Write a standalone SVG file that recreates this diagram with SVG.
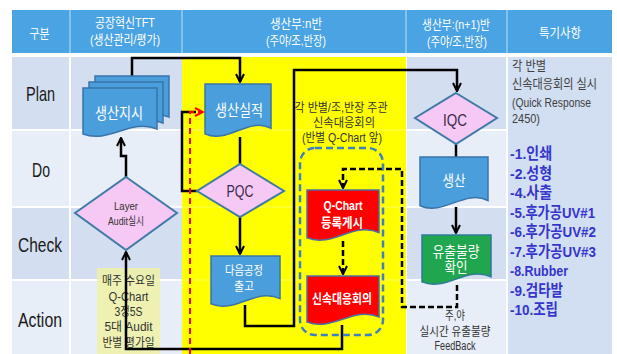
<svg xmlns="http://www.w3.org/2000/svg" width="617" height="354" viewBox="0 0 617 354">
<style>
text{font-family:'Liberation Sans','Noto Sans CJK KR',sans-serif}
.hdr{fill:#fff;font-size:13px;text-anchor:middle}
.row{fill:#1a1a1a;font-size:21px;text-anchor:middle}
.wt{fill:#fff;text-anchor:middle}
.dk{fill:#333;text-anchor:middle}
.bdoc{fill:#4A9EDC;stroke:#3A74AA;stroke-width:1.5}
.rdoc{fill:#FF0000;stroke:#4F6FA0;stroke-width:1.5}
.gdoc{fill:#1FA64E;stroke:#2E7C98;stroke-width:1.5}
.dia{fill:#F6C8F4;stroke:#3E7BA6;stroke-width:2}
.ln{fill:none;stroke:#000;stroke-width:2.5}
.dsh{stroke-dasharray:6 3}
.red{fill:none;stroke:#FF0000;stroke-width:2;stroke-dasharray:6 4}
.lst{fill:#3535CC;font-size:15.5px;font-weight:bold}
.note{fill:#404040;font-size:13px}
.sep{stroke:#fff;stroke-width:2}
</style>
<defs>
<marker id="ah" viewBox="0 0 10 10" refX="9" refY="5" markerWidth="4" markerHeight="4" orient="auto"><path d="M1,1 L9,5 L1,9" fill="none" stroke="#000" stroke-width="2"/></marker>
<marker id="ahr" viewBox="0 0 10 10" refX="9" refY="5" markerWidth="5" markerHeight="5" orient="auto"><path d="M1,1 L9,5 L1,9" fill="none" stroke="#FF0000" stroke-width="2"/></marker>
</defs>

<g id="background">
<rect x="0" y="0" width="617" height="354" fill="#fff"/>
<rect x="12" y="10" width="600" height="43" fill="#4AA3E3"/>
<g stroke="#9ACBF0" stroke-width="1.5"><line x1="70" y1="10" x2="70" y2="53"/><line x1="182" y1="10" x2="182" y2="53"/><line x1="406" y1="10" x2="406" y2="53"/><line x1="507" y1="10" x2="507" y2="53"/></g>
<rect x="12" y="57" width="600" height="297" fill="#D3DEF0"/>
<rect x="12" y="130" width="170" height="77" fill="#E8EEF7"/>
<rect x="12" y="280" width="170" height="74" fill="#E8EEF7"/>
<rect x="406" y="130" width="101" height="77" fill="#E8EEF7"/>
<rect x="406" y="280" width="101" height="74" fill="#E8EEF7"/>
<rect x="507" y="57" width="105" height="297" fill="#D2DEF2"/>
<g class="sep"><line x1="70" y1="57" x2="70" y2="354"/><line x1="406" y1="57" x2="406" y2="354"/><line x1="507" y1="57" x2="507" y2="354"/><line x1="12" y1="130" x2="507" y2="130"/><line x1="12" y1="207" x2="507" y2="207"/><line x1="12" y1="280" x2="507" y2="280"/></g>
<rect x="182" y="57" width="224" height="297" fill="#FFFF00"/>
<g stroke="#fff" stroke-opacity="0.35" stroke-width="1"><line x1="182" y1="130" x2="406" y2="130"/><line x1="182" y1="207" x2="406" y2="207"/><line x1="182" y1="280" x2="406" y2="280"/></g>
</g>

<g id="header">
<text class="hdr" x="39.5" y="38" textLength="20" lengthAdjust="spacingAndGlyphs">구분</text>
<text class="hdr" x="125" y="27" textLength="60" lengthAdjust="spacingAndGlyphs">공장혁신TFT</text>
<text class="hdr" x="125" y="44" textLength="70" lengthAdjust="spacingAndGlyphs">(생산관리/평가)</text>
<text class="hdr" x="296" y="28" textLength="52" lengthAdjust="spacingAndGlyphs">생산부:n반</text>
<text class="hdr" x="296" y="45" textLength="60" lengthAdjust="spacingAndGlyphs">(주야/조,반장)</text>
<text class="hdr" x="456" y="29" textLength="68" lengthAdjust="spacingAndGlyphs">생산부:(n+1)반</text>
<text class="hdr" x="457" y="46" textLength="60" lengthAdjust="spacingAndGlyphs">(주야/조,반장)</text>
<text class="hdr" x="560" y="37" textLength="42" lengthAdjust="spacingAndGlyphs">특기사항</text>
</g>

<g id="row-labels">
<text class="row" x="40.5" y="101" textLength="29" lengthAdjust="spacingAndGlyphs">Plan</text>
<text class="row" x="41" y="177" textLength="18" lengthAdjust="spacingAndGlyphs">Do</text>
<text class="row" x="40" y="252" textLength="44" lengthAdjust="spacingAndGlyphs">Check</text>
<text class="row" x="40" y="327" textLength="44" lengthAdjust="spacingAndGlyphs">Action</text>
</g>

<g id="note-weekly">
<rect x="97" y="268" width="63" height="86" fill="#EEF1A6" fill-opacity="0.85"/>
<text class="dk" font-size="12.5" x="128.5" y="285" textLength="53" lengthAdjust="spacingAndGlyphs">매주 수요일</text>
<text class="dk" font-size="12.5" x="128.5" y="301" textLength="40" lengthAdjust="spacingAndGlyphs">Q-Chart</text>
<text class="dk" font-size="12.5" x="128.5" y="316" textLength="28" lengthAdjust="spacingAndGlyphs">3정5S</text>
<text class="dk" font-size="12.5" x="128.5" y="331" textLength="48" lengthAdjust="spacingAndGlyphs">5대 Audit</text>
<text class="dk" font-size="12.5" x="128.5" y="347" textLength="52" lengthAdjust="spacingAndGlyphs">반별 평가일</text>
</g>

<g id="connectors">
<path class="ln" d="M132,76 V58 H240 V82" marker-end="url(#ah)"/>
<path class="ln" d="M126,177 V156 H121 V138" marker-end="url(#ah)"/>
<path class="ln" d="M342,325 V349 H126 V252" marker-end="url(#ah)"/>
<path class="ln" d="M197,191 H182 V112 H196"/>
<path class="red" d="M190,354 V112 H203" marker-end="url(#ahr)"/>
<path class="ln" d="M240,137 V164"/>
<path class="ln" d="M240,217 V254" marker-end="url(#ah)"/>
<path class="ln" d="M245,305 V326 H294 V70 H457 V91" marker-end="url(#ah)"/>
<path class="ln" d="M456,144 V158"/>
<path class="ln" d="M456,207 V233" marker-end="url(#ah)"/>
<path class="ln dsh" d="M457,285 V307 H402 V169 H343 V188" marker-end="url(#ah)"/>
<path class="ln dsh" d="M343,241 V274" marker-end="url(#ah)"/>
</g>

<g id="node-production-order">
<path class="bdoc" d="M95,76 H169 V117 C143.1,106 120.9,132 95,122 Z"/>
<path class="bdoc" d="M89,82 H163 V123 C137.1,112 114.9,138 89,128 Z"/>
<path class="bdoc" d="M83,88 H157 V129 C131.1,118 108.9,144 83,134 Z"/>
<text class="wt" font-size="16" x="119" y="119" textLength="48" lengthAdjust="spacingAndGlyphs">생산지시</text>
</g>

<g id="node-layer-audit">
<polygon class="dia" points="126,177 177,213 126,250 75,213"/>
<text fill="#333" text-anchor="middle" font-size="11" x="126" y="210" textLength="24" lengthAdjust="spacingAndGlyphs">Layer</text>
<text fill="#333" text-anchor="middle" font-size="11" x="126" y="225" textLength="36" lengthAdjust="spacingAndGlyphs">Audit실시</text>
</g>

<g id="node-production-result">
<path class="bdoc" d="M205,84 H271 V128.3 C247.9,116.4 228.1,144.5 205,133.7 Z"/>
<text class="wt" font-size="16" x="239" y="116" textLength="48" lengthAdjust="spacingAndGlyphs">생산실적</text>
</g>

<g id="node-pqc">
<polygon class="dia" points="240,164 284,191 240,217 197,191"/>
<text fill="#3A2A4A" text-anchor="middle" font-size="17" x="240" y="197" textLength="27" lengthAdjust="spacingAndGlyphs">PQC</text>
</g>

<g id="node-next-process">
<path class="bdoc" d="M211,256 H280 V298.6 C255.9,287.2 235.2,314.2 211,303.8 Z"/>
<text class="wt" font-size="12.5" x="244" y="275" textLength="38" lengthAdjust="spacingAndGlyphs">다음공정</text>
<text class="wt" font-size="12.5" x="244" y="291" textLength="20" lengthAdjust="spacingAndGlyphs">출고</text>
</g>

<g id="label-meeting">
<text class="dk" font-size="12.5" x="341" y="112" textLength="93" lengthAdjust="spacingAndGlyphs">각 반별/조,반장 주관</text>
<text class="dk" font-size="12.5" x="344" y="127" textLength="62" lengthAdjust="spacingAndGlyphs">신속대응회의</text>
<text class="dk" font-size="12.5" x="342" y="142" textLength="80" lengthAdjust="spacingAndGlyphs">(반별 Q-Chart 앞)</text>
</g>

<g id="group-meeting">
<rect x="300" y="148" width="83" height="187" rx="15" fill="none" stroke="#3F7FC4" stroke-width="2.5" stroke-dasharray="7 4"/>
</g>

<g id="node-qchart">
<path class="rdoc" d="M307,190 H379 V232.6 C353.8,221.2 332.2,248.2 307,237.8 Z"/>
<text class="wt" font-size="13" font-weight="bold" x="343" y="210" textLength="39" lengthAdjust="spacingAndGlyphs">Q-Chart</text>
<text class="wt" font-size="13" font-weight="bold" x="342" y="227" textLength="42" lengthAdjust="spacingAndGlyphs">등록게시</text>
</g>

<g id="node-quick-meeting">
<path class="rdoc" d="M307,276 H379 V317 C353.8,306 332.2,332 307,322 Z"/>
<text class="wt" font-size="13" font-weight="bold" x="342" y="303" textLength="60" lengthAdjust="spacingAndGlyphs">신속대응회의</text>
</g>

<g id="node-iqc">
<polygon class="dia" points="456,93 497,118 456,144 415,118"/>
<text fill="#3A2A4A" text-anchor="middle" font-size="17" x="455" y="126" textLength="24" lengthAdjust="spacingAndGlyphs">IQC</text>
</g>

<g id="node-production">
<path class="bdoc" d="M420,157 H488 V200.5 C464.2,188.8 443.8,216.4 420,205.8 Z"/>
<text class="wt" font-size="15" x="454" y="186" textLength="23" lengthAdjust="spacingAndGlyphs">생산</text>
</g>

<g id="node-outflow-check">
<path class="gdoc" d="M422,235 H491 V276.8 C466.9,265.6 446.2,292.1 422,281.9 Z"/>
<text class="wt" font-size="15" x="456" y="257" textLength="47" lengthAdjust="spacingAndGlyphs">유출불량</text>
<text class="wt" font-size="15" x="456" y="273" textLength="23" lengthAdjust="spacingAndGlyphs">확인</text>
</g>

<g id="label-feedback">
<text class="dk" font-size="12" x="455" y="320" textLength="20" lengthAdjust="spacingAndGlyphs">주,야</text>
<text class="dk" font-size="12" x="455" y="336" textLength="71" lengthAdjust="spacingAndGlyphs">실시간 유출불량</text>
<text class="dk" font-size="12" x="455" y="350" textLength="41" lengthAdjust="spacingAndGlyphs">FeedBack</text>
</g>

<g id="remarks">
<text class="note" x="512" y="70" textLength="34" lengthAdjust="spacingAndGlyphs">각 반별</text>
<text class="note" x="512" y="88" textLength="85" lengthAdjust="spacingAndGlyphs">신속대응회의 실시</text>
<text class="note" x="512" y="107" textLength="79" lengthAdjust="spacingAndGlyphs">(Quick Response</text>
<text class="note" x="512" y="123" textLength="28" lengthAdjust="spacingAndGlyphs">2450)</text>
<text class="lst" x="510" y="159" textLength="42" lengthAdjust="spacingAndGlyphs">-1.인쇄</text>
<text class="lst" x="510" y="178.5" textLength="42" lengthAdjust="spacingAndGlyphs">-2.성형</text>
<text class="lst" x="510" y="198" textLength="42" lengthAdjust="spacingAndGlyphs">-4.사출</text>
<text class="lst" x="510" y="217.5" textLength="85" lengthAdjust="spacingAndGlyphs">-5.후가공UV#1</text>
<text class="lst" x="510" y="237" textLength="86" lengthAdjust="spacingAndGlyphs">-6.후가공UV#2</text>
<text class="lst" x="510" y="256.5" textLength="86" lengthAdjust="spacingAndGlyphs">-7.후가공UV#3</text>
<text class="lst" x="510" y="276" textLength="58" lengthAdjust="spacingAndGlyphs">-8.Rubber</text>
<text class="lst" x="510" y="295.5" textLength="53" lengthAdjust="spacingAndGlyphs">-9.검타발</text>
<text class="lst" x="510" y="315" textLength="48" lengthAdjust="spacingAndGlyphs">-10.조립</text>
</g>
</svg>
